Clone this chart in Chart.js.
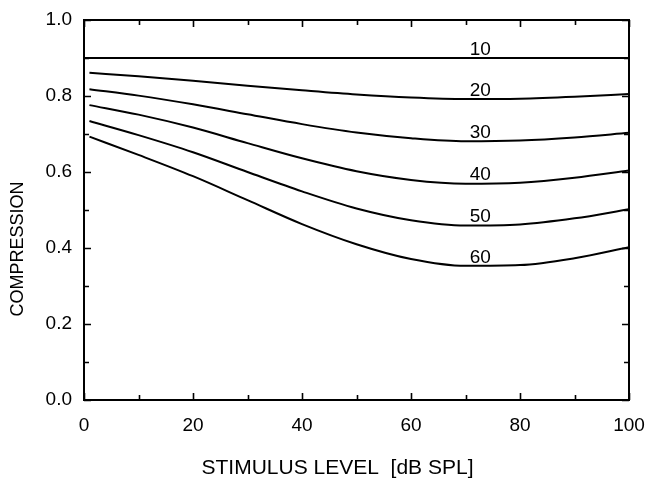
<!DOCTYPE html>
<html>
<head>
<meta charset="utf-8">
<script src="https://cdn.jsdelivr.net/npm/chart.js@4.4.1/dist/chart.umd.min.js"></script>
<style>
  html, body { margin: 0; padding: 0; background: #fff; }
  canvas { display: block; }
</style>
</head>
<body>
<canvas id="chart" width="649" height="487"></canvas>
<script>
// Stimulus levels (dB SPL) at which each compression curve is sampled
const levelsFlat = [0, 10, 20, 30, 40, 50, 60, 70, 80, 90, 100];
const levelsCurve = [1, 10, 20, 30, 40, 50, 60, 70, 80, 90, 100];

// Curve names (parameter value written next to each curve)
const curveNames = ['10', '20', '30', '40', '50', '60'];

// Compression values for each curve
const comp10 = [0.90, 0.90, 0.90, 0.90, 0.90, 0.90, 0.90, 0.90, 0.90, 0.90, 0.90];
const comp20 = [0.861, 0.852, 0.840, 0.827, 0.815, 0.804, 0.796, 0.792, 0.793, 0.798, 0.805];
const comp30 = [0.818, 0.801, 0.778, 0.752, 0.726, 0.704, 0.689, 0.681, 0.683, 0.691, 0.703];
const comp40 = [0.776, 0.751, 0.717, 0.676, 0.636, 0.602, 0.579, 0.569, 0.572, 0.585, 0.604];
const comp50 = [0.734, 0.697, 0.652, 0.600, 0.549, 0.504, 0.473, 0.459, 0.462, 0.478, 0.502];
const comp60 = [0.693, 0.645, 0.589, 0.526, 0.463, 0.410, 0.371, 0.353, 0.355, 0.373, 0.402];

// Axis ticks
const xTicks = [0, 20, 40, 60, 80, 100];
const yTicks = [0.0, 0.2, 0.4, 0.6, 0.8, 1.0];

// Axis titles
const xTitle = 'STIMULUS LEVEL  [dB SPL]';
const yTitle = 'COMPRESSION';

// Where along the x axis the curve names sit
const nameAtLevel = 72.7;

const seriesValues = [comp10, comp20, comp30, comp40, comp50, comp60];
const seriesLevels = [levelsFlat, levelsCurve, levelsCurve, levelsCurve, levelsCurve, levelsCurve];

const FONT = '"Liberation Sans", Arial, Helvetica, sans-serif';

function toPoints(xs, ys) {
  return xs.map((x, i) => ({ x: x, y: ys[i] }));
}

function valueAt(xs, ys, x) {
  for (let i = 0; i < xs.length - 1; i++) {
    if (x >= xs[i] && x <= xs[i + 1]) {
      const t = (x - xs[i]) / (xs[i + 1] - xs[i]);
      return ys[i] + t * (ys[i + 1] - ys[i]);
    }
  }
  return ys[ys.length - 1];
}

// Frame with inward tick marks on all four sides, curve names and axis titles
const framePlugin = {
  id: 'frame',
  afterDatasetsDraw(chart) {
    const { ctx, chartArea: a, scales: { x, y } } = chart;
    ctx.save();
    ctx.strokeStyle = '#000';
    ctx.lineWidth = 2;
    ctx.strokeRect(a.left, a.top, a.right - a.left, a.bottom - a.top);
    ctx.lineWidth = 1.6;
    ctx.beginPath();
    for (let v = 0; v <= 100; v += 10) {
      const px = Math.round(x.getPixelForValue(v)) + 0.5;
      const len = (v % 20 === 0) ? 7 : 5;
      ctx.moveTo(px, a.bottom); ctx.lineTo(px, a.bottom - len);
      ctx.moveTo(px, a.top); ctx.lineTo(px, a.top + len);
    }
    for (let k = 0; k <= 10; k++) {
      const v = k / 10;
      const py = Math.round(y.getPixelForValue(v)) + 0.5;
      const len = (k % 2 === 0) ? 7 : 5;
      ctx.moveTo(a.left, py); ctx.lineTo(a.left + len, py);
      ctx.moveTo(a.right, py); ctx.lineTo(a.right - len, py);
    }
    ctx.stroke();

    // Curve names above each line
    ctx.fillStyle = '#000';
    ctx.font = '19px ' + FONT;
    ctx.textAlign = 'center';
    ctx.textBaseline = 'alphabetic';
    const px = x.getPixelForValue(nameAtLevel);
    curveNames.forEach((name, i) => {
      const v = valueAt(seriesLevels[i], seriesValues[i], nameAtLevel);
      ctx.fillText(name, px, y.getPixelForValue(v) - 3);
    });

    // X-axis title
    ctx.font = '21px ' + FONT;
    ctx.textBaseline = 'middle';
    ctx.fillText(xTitle, 337.5, 468);

    // Y-axis title
    ctx.font = '18px ' + FONT;
    ctx.translate(18, 249);
    ctx.rotate(-Math.PI / 2);
    ctx.textAlign = 'center';
    ctx.textBaseline = 'middle';
    ctx.fillText(yTitle, 0, 0);
    ctx.restore();
  }
};

const datasets = seriesValues.map((vals, i) => ({
  label: curveNames[i],
  data: toPoints(seriesLevels[i], vals),
  borderColor: '#000',
  borderWidth: 2,
  pointRadius: 0,
  fill: false,
  cubicInterpolationMode: 'monotone'
}));

new Chart(document.getElementById('chart'), {
  type: 'line',
  data: { datasets: datasets },
  options: {
    responsive: false,
    animation: false,
    layout: { padding: { top: 20, right: 20, left: 0, bottom: 0 } },
    plugins: {
      legend: { display: false },
      tooltip: { enabled: false }
    },
    scales: {
      x: {
        type: 'linear',
        min: 0,
        max: 100,
        afterBuildTicks(scale) { scale.ticks = xTicks.map(v => ({ value: v })); },
        afterFit(scale) { scale.height = 87; scale.paddingLeft = 0; scale.paddingRight = 0; },
        grid: { display: false, drawTicks: false },
        border: { display: false },
        ticks: {
          color: '#000',
          font: { family: FONT, size: 19 },
          padding: 14,
          autoSkip: false,
          maxRotation: 0,
          callback: v => String(v)
        }
      },
      y: {
        type: 'linear',
        min: 0,
        max: 1,
        afterBuildTicks(scale) { scale.ticks = yTicks.map(v => ({ value: v })); },
        afterFit(scale) { scale.width = 84; scale.paddingTop = 0; scale.paddingBottom = 0; },
        grid: { display: false, drawTicks: false },
        border: { display: false },
        ticks: {
          color: '#000',
          font: { family: FONT, size: 19 },
          padding: 12,
          autoSkip: false,
          callback: v => Number(v).toFixed(1)
        }
      }
    }
  },
  plugins: [framePlugin]
});
</script>
</body>
</html>
